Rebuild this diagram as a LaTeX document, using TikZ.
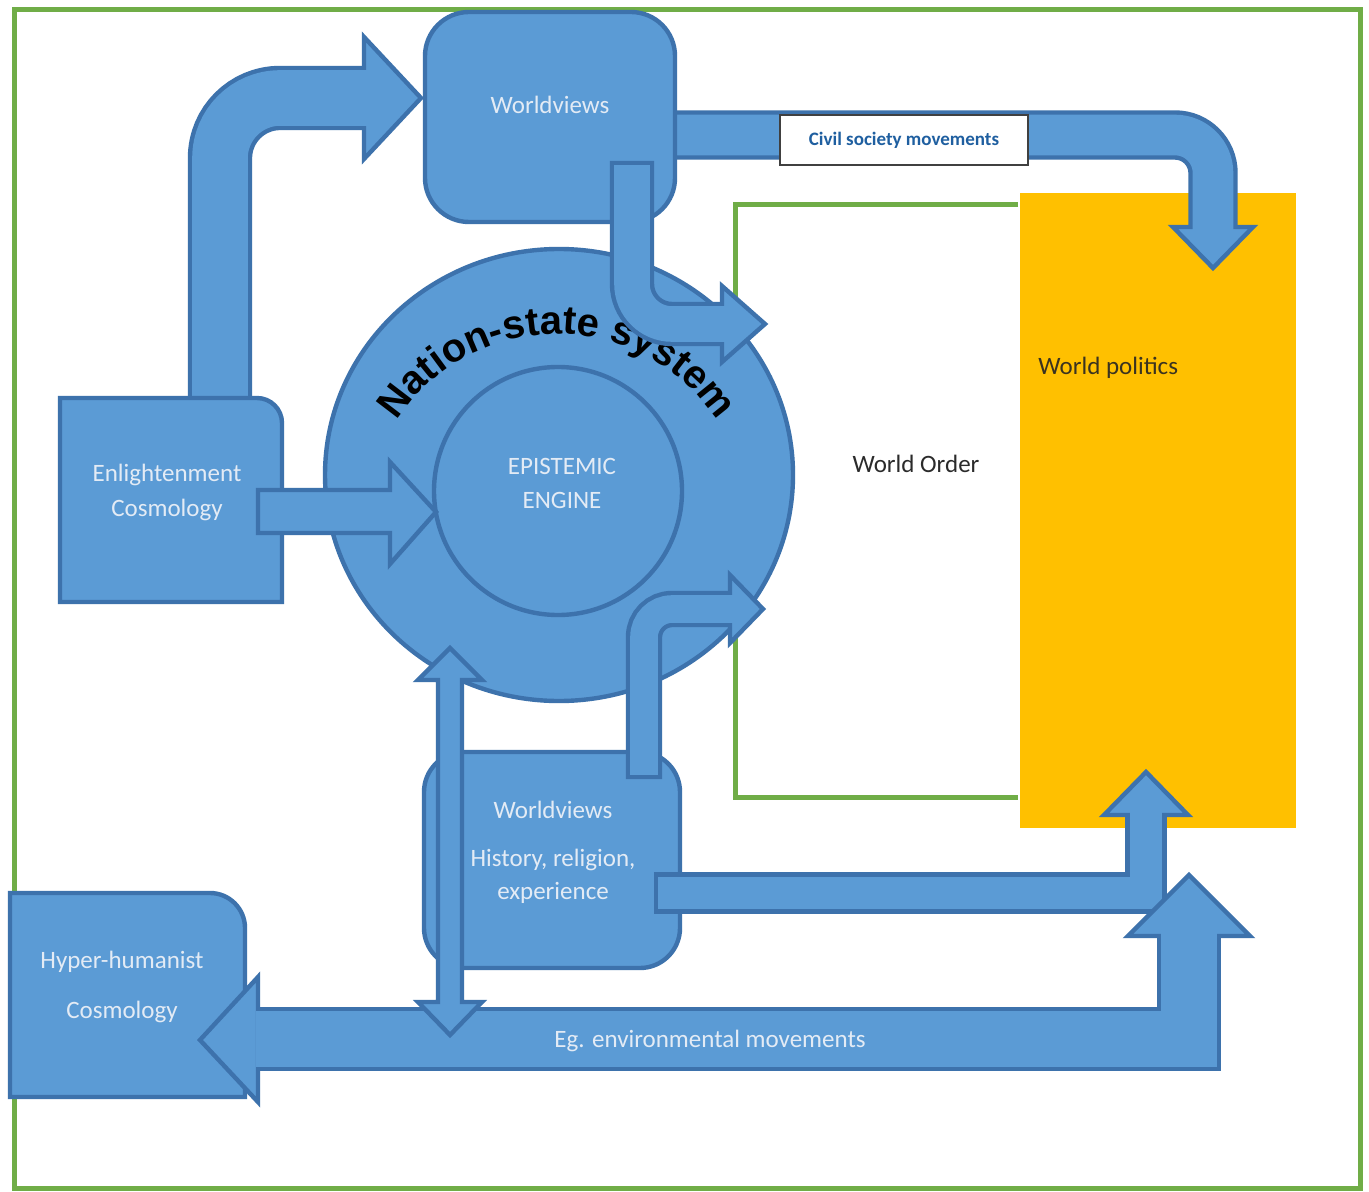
\documentclass[tikz,border=0pt]{standalone}
\usepackage{fontspec}
\setmainfont{Carlito}
\newfontfamily\nssfont{Liberation Sans}
\usetikzlibrary{decorations.text,shapes.geometric}
\definecolor{bfill}{HTML}{5B9BD5}
\definecolor{bdraw}{HTML}{3D72AC}
\definecolor{grn}{HTML}{70AD47}
\definecolor{ylw}{HTML}{FFC000}
\definecolor{ltxt}{HTML}{E3EBF5}
\definecolor{civ}{HTML}{1F5FA0}
\definecolor{dtxt}{HTML}{2B2B2B}
\definecolor{ptxt}{HTML}{3A3320}
\tikzset{
  blk/.style={fill=bfill, draw=bdraw, line width=2.2pt, line join=miter},
  shout/.style={draw=bdraw, line width=#1+2.2pt, line cap=butt, line join=miter, shorten <=-1.1pt},
  shin/.style={draw=bfill, line width=#1-2.2pt, line cap=butt, line join=miter, shorten <=1.1pt},
  lbl/.style={text=ltxt, font=\fontsize{12.5}{15}\selectfont, inner sep=0pt},
  dlbl/.style={text=dtxt, font=\fontsize{12.5}{15}\selectfont, inner sep=0pt},
}
\newcommand\nsstext[2]{%
  \path[decorate, decoration={text along path, text align=center, text color=#1,
    text={|\nssfont\bfseries\fontsize{20}{24}\selectfont|Nation-state system}}, #2]
    plot[domain=-150:-30, samples=90] ({557+192*cos(\x)},{526+192*sin(\x)});
}
\begin{document}
\begin{tikzpicture}[x=0.5pt,y=-0.5pt]
\fill[white] (0,0) rectangle (1369,1192);
\useasboundingbox (0,0) rectangle (1369,1192);
% outer frame
\draw[grn, line width=2.5pt] (14,10) rectangle (1360,1188);
% world politics
\node[fill=ylw, minimum width=138pt, minimum height=317.5pt, inner sep=0pt] (wp) at (1158,510.5) {};
\node[anchor=west, text=ptxt, font=\fontsize{12.5}{15}\selectfont, inner sep=0pt] (wptxt) at (1038,368) {World politics};
% world order bracket
\draw[grn, line width=2.5pt] (1018,205) -- (735,205) -- (735,797) -- (1018,797);
\node[dlbl] (wo) at (916,464) {World Order};
% arrow: Enlightenment -> top worldviews
\draw[shout=30pt, rounded corners=30pt] (220,420) -- (220,98) -- (368,98);
\draw[blk] (364,37) -- (421,98) -- (364,159) -- cycle;
\draw[shin=30pt, rounded corners=30pt] (220,420) -- (220,98) -- (368,98);
% arrow: civil society -> world politics
\draw[shout=22.5pt, rounded corners=19pt] (660,135) -- (1213,135) -- (1213,231);
\draw[blk] (1173,227) -- (1213,268) -- (1253,227) -- cycle;
\draw[shin=22.5pt, rounded corners=19pt] (660,135) -- (1213,135) -- (1213,231);
% top worldviews box
\node[blk, rounded corners=22pt, minimum width=125pt, minimum height=105pt, inner sep=0pt] (wvtop) at (550,117) {};
\node[lbl] (wvtoptxt) at (550,105) {Worldviews};
% civil society label
\node[draw=black!75, fill=white, line width=1pt, minimum width=124pt, minimum height=25pt, inner sep=0pt,
  text=civ, font=\bfseries\fontsize{9.5}{11}\selectfont] (civil) at (904,140) {Civil society movements};
% nation-state circle
\node[blk, ellipse, minimum width=234pt, minimum height=226pt, inner sep=0pt] (nss) at (559,475) {};
\node[blk, circle, minimum size=124pt, inner sep=0pt] (epi) at (558,491) {};
\node[lbl] (epi1) at (562,466) {EPISTEMIC};
\node[lbl] (epi2) at (562,500) {ENGINE};
\nsstext{black}{}
% arrow: top worldviews -> world order
\draw[shout=20pt, rounded corners=20pt] (632,163) -- (632,324) -- (726,324);
\draw[blk] (722,286) -- (765,324) -- (722,362) -- cycle;
\draw[shin=20pt, rounded corners=20pt] (632,163) -- (632,324) -- (726,324);
% enlightenment box
\draw[blk] (60,602) -- (60,398) -- (257,398) .. controls (270.8,398) and (282,409.2) .. (282,423) -- (282,602) -- cycle;
\node[lbl, align=center, font=\fontsize{12.5}{17.5}\selectfont] (enl) at (167,492) {Enlightenment\\Cosmology};
% arrow: enlightenment -> epistemic engine
\draw[blk] (258,490) -- (390,490) -- (390,462) -- (436,512) -- (390,564) -- (390,533) -- (258,533) -- cycle;
% hyper-humanist box
\draw[blk] (10,1097) -- (10,893) -- (210,893) .. controls (229.3,893) and (245,908.7) .. (245,928) -- (245,1097) -- cycle;
\node[lbl] (hh1) at (122,962) {Hyper-humanist};
\node[lbl] (hh2) at (122,1012) {Cosmology};
% bottom worldviews box
\node[blk, rounded corners=20pt, minimum width=128pt, minimum height=108pt, inner sep=0pt] (wvbot) at (552,860) {};
\node[lbl] (wvb1) at (553,810) {Worldviews};
\node[lbl] (wvb2) at (553,860) {History, religion,};
\node[lbl] (wvb3) at (553,893) {experience};
% arrow: bottom worldviews -> world politics
\draw[shout=18.5pt] (656,893) -- (1146,893) -- (1146,811);
\draw[blk] (1104,815) -- (1146,772) -- (1188,815) -- cycle;
\draw[shin=18.5pt] (656,893) -- (1146,893) -- (1146,811);
% arrow: environmental movements (double)
\draw[shout=30pt] (254,1039) -- (1189,1039) -- (1189,932);
\draw[blk] (258,977) -- (200,1040) -- (258,1102) -- cycle;
\draw[blk] (1128,936) -- (1189,875) -- (1250,936) -- cycle;
\draw[shin=30pt] (254,1039) -- (1189,1039) -- (1189,932);
\node[lbl] (env) at (710,1041) {Eg. environmental movements};
% double vertical arrow
\draw[blk] (450,648) -- (482,680) -- (462,680) -- (462,1002) -- (482,1002) -- (450,1035) -- (418,1002) -- (438,1002) -- (438,680) -- (418,680) -- cycle;
% arrow: bottom worldviews -> world order
\draw[shout=16pt, rounded corners=14pt] (644,777) -- (644,609) -- (734,609);
\draw[blk] (730,575) -- (763,609) -- (730,643) -- cycle;
\draw[shin=16pt, rounded corners=14pt] (644,777) -- (644,609) -- (734,609);
\end{tikzpicture}
\end{document}
